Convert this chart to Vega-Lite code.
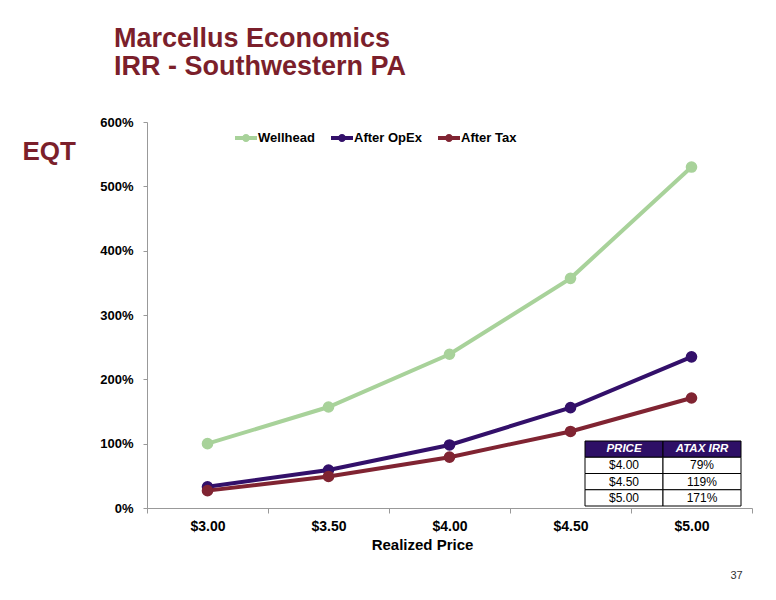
{
  "$schema": "https://vega.github.io/schema/vega-lite/v6.json",
  "autosize": "none",
  "width": 605,
  "height": 386,
  "padding": {"left": 147, "top": 122, "right": 24, "bottom": 92},
  "background": "white",
  "title": {
    "text": ["Marcellus Economics", "IRR - Southwestern PA"],
    "anchor": "start",
    "frame": "group",
    "dx": -33,
    "offset": 35,
    "font": "Liberation Sans",
    "fontSize": 27,
    "fontWeight": "bold",
    "lineHeight": 28.5,
    "color": "#7b1f2b"
  },
  "config": {
    "view": {"stroke": null},
    "font": "Liberation Sans"
  },
  "layer": [
    {
      "data": {
        "values": [
          {"price": "$3.00", "series": "Wellhead", "irr": 100},
          {"price": "$3.50", "series": "Wellhead", "irr": 157},
          {"price": "$4.00", "series": "Wellhead", "irr": 239},
          {"price": "$4.50", "series": "Wellhead", "irr": 357},
          {"price": "$5.00", "series": "Wellhead", "irr": 530},
          {"price": "$3.00", "series": "After OpEx", "irr": 33},
          {"price": "$3.50", "series": "After OpEx", "irr": 59},
          {"price": "$4.00", "series": "After OpEx", "irr": 98},
          {"price": "$4.50", "series": "After OpEx", "irr": 156},
          {"price": "$5.00", "series": "After OpEx", "irr": 235},
          {"price": "$3.00", "series": "After Tax", "irr": 27},
          {"price": "$3.50", "series": "After Tax", "irr": 49},
          {"price": "$4.00", "series": "After Tax", "irr": 79},
          {"price": "$4.50", "series": "After Tax", "irr": 119},
          {"price": "$5.00", "series": "After Tax", "irr": 171}
        ]
      },
      "mark": {
        "type": "line",
        "strokeWidth": 4,
        "point": {"filled": true, "size": 135, "opacity": 1}
      },
      "encoding": {
        "x": {
          "field": "price",
          "type": "nominal",
          "bandPosition": 0.5,
          "scale": {
            "type": "band",
            "domain": ["$3.00", "$3.50", "$4.00", "$4.50", "$5.00"],
            "paddingInner": 0,
            "paddingOuter": 0
          },
          "axis": {
            "title": "Realized Price",
            "titleX": 275,
            "titleFontSize": 15,
            "titleFontWeight": "bold",
            "titleColor": "black",
            "titlePadding": 4,
            "labelAngle": 0,
            "labelFontSize": 14,
            "labelFontWeight": "bold",
            "labelColor": "black",
            "labelPadding": 6,
            "tickBand": "extent",
            "tickSize": 5,
            "tickColor": "#999",
            "domainColor": "#999"
          }
        },
        "y": {
          "field": "irr",
          "type": "quantitative",
          "scale": {"domain": [0, 600], "nice": false},
          "axis": {
            "values": [0, 100, 200, 300, 400, 500, 600],
            "labelExpr": "datum.value + '%'",
            "grid": false,
            "labelFontSize": 13,
            "labelFontWeight": "bold",
            "labelColor": "black",
            "labelPadding": 10,
            "tickSize": 4,
            "tickColor": "#999",
            "domainColor": "#999",
            "title": "EQT",
            "titleAngle": 0,
            "titleAlign": "left",
            "titleBaseline": "alphabetic",
            "titleX": -125,
            "titleY": 37,
            "titleFontSize": 26,
            "titleFontWeight": "bold",
            "titleColor": "#7b1f2b"
          }
        },
        "color": {
          "field": "series",
          "type": "nominal",
          "sort": null,
          "scale": {
            "domain": ["Wellhead", "After OpEx", "After Tax"],
            "range": ["#a8d29a", "#33106a", "#802432"]
          },
          "legend": {
            "title": null,
            "orient": "none",
            "direction": "horizontal",
            "legendX": 88,
            "legendY": 5,
            "symbolType": "M-1,-0.18H1V0.18H-1Z M0.36,0A0.36,0.36 0 1,1 -0.36,0A0.36,0.36 0 1,1 0.36,0Z",
            "symbolSize": 484,
            "symbolStrokeWidth": 0,
            "labelFontSize": 13,
            "labelFontWeight": "bold",
            "labelColor": "black",
            "labelOffset": 1,
            "columnPadding": 16,
            "encode": {
              "symbols": {
                "update": {
                  "fill": {"scale": "color", "field": "value"},
                  "strokeWidth": {"value": 0}
                }
              }
            }
          }
        }
      }
    },
    {
      "data": {
        "values": [
          {"r": "head", "c": "PRICE", "t": "PRICE"},
          {"r": "head", "c": "ATAX IRR", "t": "ATAX IRR"},
          {"r": "$4.00", "c": "PRICE", "t": "$4.00"},
          {"r": "$4.00", "c": "ATAX IRR", "t": "79%"},
          {"r": "$4.50", "c": "PRICE", "t": "$4.50"},
          {"r": "$4.50", "c": "ATAX IRR", "t": "119%"},
          {"r": "$5.00", "c": "PRICE", "t": "$5.00"},
          {"r": "$5.00", "c": "ATAX IRR", "t": "171%"}
        ]
      },
      "encoding": {
        "x": {
          "field": "c",
          "type": "nominal",
          "bandPosition": 0.5,
          "scale": {
            "type": "band",
            "domain": ["PRICE", "ATAX IRR"],
            "range": [438, 594],
            "paddingInner": 0,
            "paddingOuter": 0
          },
          "axis": null
        },
        "y": {
          "field": "r",
          "type": "nominal",
          "bandPosition": 0.5,
          "scale": {
            "type": "band",
            "domain": ["head", "$4.00", "$4.50", "$5.00"],
            "range": [319, 384],
            "paddingInner": 0,
            "paddingOuter": 0
          },
          "axis": {
            "orient": "right",
            "domain": false,
            "ticks": false,
            "labels": false,
            "grid": false,
            "title": "37",
            "titleAngle": 0,
            "titleAlign": "center",
            "titleBaseline": "middle",
            "titleX": -16,
            "titleY": 453,
            "titleFontSize": 11,
            "titleFontWeight": "normal",
            "titleColor": "#333"
          }
        }
      },
      "layer": [
        {
          "mark": {"type": "rect", "stroke": "black", "strokeWidth": 1},
          "encoding": {
            "x": {"field": "c", "type": "nominal"},
            "y": {"field": "r", "type": "nominal"},
            "fill": {
              "condition": {"test": "datum.r === 'head'", "value": "#2e1066"},
              "value": "white"
            }
          }
        },
        {
          "transform": [{"filter": "datum.r === 'head'"}],
          "mark": {
            "type": "text",
            "fontSize": 11.5,
            "fontWeight": "bold",
            "fontStyle": "italic",
            "color": "white",
            "baseline": "middle"
          },
          "encoding": {"text": {"field": "t", "type": "nominal"}}
        },
        {
          "transform": [{"filter": "datum.r !== 'head'"}],
          "mark": {
            "type": "text",
            "fontSize": 12,
            "color": "black",
            "baseline": "middle"
          },
          "encoding": {"text": {"field": "t", "type": "nominal"}}
        }
      ]
    }
  ],
  "resolve": {
    "scale": {"x": "independent", "y": "independent"},
    "axis": {"x": "independent", "y": "independent"}
  }
}
